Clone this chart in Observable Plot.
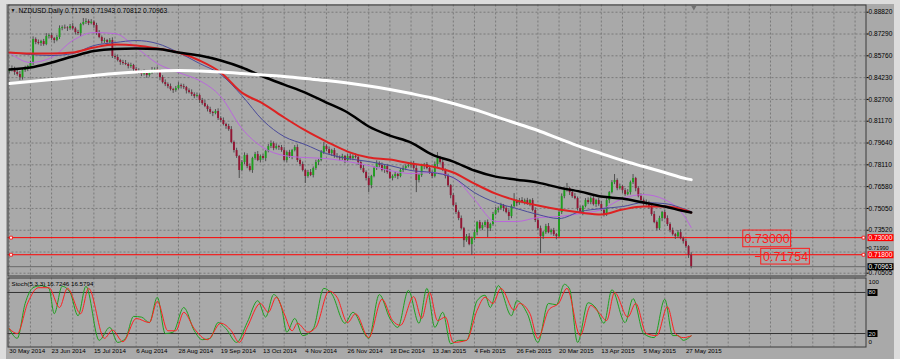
<!DOCTYPE html>
<html><head><meta charset="utf-8">
<script src="https://cdn.jsdelivr.net/npm/d3@7"></script>
<script src="https://cdn.jsdelivr.net/npm/@observablehq/plot@0.6"></script>
<style>
html,body{margin:0;padding:0;background:#dcdcdc;width:900px;height:359px;overflow:hidden;}
#wrap{position:absolute;left:6px;top:4px;width:888px;height:355px;background:#a9a9a9;}
#wrap svg{display:block;}
</style></head><body><div id="wrap"></div>
<script>
// ---- Daily OHLC, NZDUSD, 30 May 2014 .. 29 May 2015 (one entry per bar) ----
const open = [
.8465,.8473,.8487,.8459,.8445,.8423,.8473,.8487,.8501,.8522,
.8690,.8669,.8662,.8676,.8655,.8711,.8718,.8697,.8683,.8704,
.8767,.8774,.8771,.8767,.8781,.8765,.8739,.8732,.8796,.8810,
.8817,.8803,.8812,.8789,.8732,.8704,.8676,.8683,.8669,.8683,
.8571,.8564,.8543,.8529,.8522,.8515,.8501,.8508,.8480,.8466,
.8459,.8445,.8459,.8438,.8452,.8473,.8480,.8471,.8423,.8388,
.8374,.8360,.8339,.8332,.8346,.8367,.8360,.8353,.8330,.8318,
.8304,.8290,.8297,.8262,.8241,.8220,.8199,.8178,.8171,.8185,
.8136,.8122,.8094,.8080,.8058,.7967,.7911,.7869,.7771,.7827,
.7876,.7799,.7771,.7855,.7883,.7841,.7869,.7855,.7904,.7939,
.7960,.7925,.7939,.7932,.7911,.7841,.7897,.7869,.7911,.7932,
.7841,.7813,.7771,.7729,.7757,.7736,.7785,.7827,.7841,.7897,
.7939,.7918,.7890,.7911,.7869,.7862,.7855,.7869,.7841,.7869,
.7855,.7869,.7862,.7827,.7785,.7757,.7715,.7665,.7729,.7785,
.7820,.7806,.7771,.7799,.7757,.7715,.7729,.7743,.7729,.7771,
.7785,.7799,.7806,.7820,.7785,.7701,.7736,.7799,.7813,.7785,
.7757,.7729,.7813,.7855,.7827,.7771,.7729,.7665,.7595,.7525,
.7476,.7434,.7363,.7279,.7307,.7251,.7293,.7335,.7406,.7363,
.7385,.7406,.7363,.7392,.7462,.7490,.7504,.7525,.7504,.7476,
.7448,.7518,.7560,.7539,.7560,.7546,.7560,.7539,.7560,.7490,
.7420,.7363,.7307,.7335,.7378,.7335,.7349,.7321,.7307,.7476,
.7588,.7630,.7644,.7616,.7588,.7574,.7504,.7476,.7518,.7560,
.7546,.7574,.7532,.7560,.7532,.7490,.7462,.7560,.7616,.7686,
.7701,.7644,.7658,.7630,.7602,.7616,.7686,.7715,.7644,.7588,
.7560,.7532,.7546,.7518,.7462,.7406,.7363,.7434,.7476,.7434,
.7392,.7349,.7321,.7307,.7335,.7293,.7272,.7237,.71758];
const high = [
.8485,.8505,.8496,.8474,.8466,.8484,.8503,.8509,.8536,.8709,
.8702,.8687,.8685,.8691,.8732,.8729,.8734,.8705,.8718,.8786,
.8786,.8792,.8780,.8796,.8802,.8776,.8755,.8804,.8838,.8836,
.8829,.8830,.8821,.8804,.8753,.8715,.8699,.8691,.8697,.8702,
.8583,.8582,.8552,.8544,.8543,.8526,.8524,.8516,.8494,.8485,
.8471,.8477,.8468,.8467,.8494,.8491,.8496,.8479,.8437,.8407,
.8386,.8378,.8348,.8361,.8388,.8378,.8376,.8361,.8344,.8337,
.8316,.8315,.8306,.8277,.8262,.8231,.8215,.8186,.8199,.8204,
.8148,.8140,.8103,.8095,.8079,.7978,.7927,.7877,.7841,.7895,
.7888,.7817,.7864,.7898,.7904,.7880,.7885,.7912,.7953,.7979,
.7972,.7957,.7948,.7947,.7932,.7908,.7913,.7919,.7946,.7951,
.7853,.7831,.7780,.7772,.7778,.7796,.7843,.7849,.7911,.7967,
.7951,.7936,.7920,.7926,.7890,.7873,.7885,.7877,.7883,.7888,
.7881,.7887,.7871,.7842,.7806,.7768,.7731,.7737,.7799,.7839,
.7832,.7824,.7808,.7814,.7778,.7740,.7759,.7751,.7785,.7804,
.7811,.7824,.7829,.7835,.7806,.7747,.7815,.7821,.7827,.7804,
.7769,.7831,.7897,.7870,.7848,.7782,.7745,.7673,.7609,.7544,
.7488,.7452,.7372,.7322,.7328,.7304,.7351,.7414,.7420,.7404,
.7418,.7424,.7401,.7477,.7511,.7515,.7541,.7533,.7518,.7495,
.7530,.7609,.7569,.7575,.7581,.7571,.7576,.7568,.7574,.7509,
.7432,.7381,.7344,.7393,.7399,.7360,.7365,.7329,.7490,.7607,
.7642,.7680,.7653,.7631,.7609,.7585,.7520,.7526,.7574,.7579,
.7586,.7592,.7569,.7575,.7553,.7501,.7576,.7624,.7700,.7743,
.7713,.7676,.7667,.7645,.7637,.7697,.7743,.7723,.7658,.7607,
.7572,.7564,.7555,.7533,.7483,.7417,.7450,.7484,.7490,.7453,
.7404,.7367,.7330,.7350,.7356,.7304,.7288,.7245,.71943];
const low = [
.8450,.8463,.8439,.8433,.8403,.8406,.8460,.8465,.8492,.8508,
.8654,.8652,.8642,.8643,.8647,.8694,.8684,.8661,.8674,.8690,
.8752,.8761,.8747,.8755,.8757,.8722,.8719,.8710,.8787,.8796,
.8788,.8793,.8769,.8720,.8696,.8659,.8663,.8647,.8660,.8557,
.8549,.8533,.8509,.8510,.8507,.8484,.8488,.8458,.8457,.8445,
.8430,.8435,.8418,.8426,.8444,.8456,.8458,.8401,.8379,.8360,
.8345,.8329,.8312,.8320,.8338,.8343,.8340,.8308,.8309,.8290,
.8275,.8280,.8242,.8229,.8212,.8182,.8165,.8149,.8162,.8122,
.8107,.8084,.8060,.8046,.7959,.7894,.7856,.7715,.7762,.7813,
.7784,.7761,.7751,.7843,.7833,.7824,.7842,.7833,.7895,.7925,
.7910,.7915,.7912,.7899,.7833,.7824,.7856,.7847,.7902,.7827,
.7798,.7761,.7680,.7717,.7728,.7719,.7772,.7805,.7832,.7883,
.7903,.7880,.7870,.7857,.7854,.7838,.7842,.7819,.7832,.7841,
.7840,.7852,.7807,.7773,.7749,.7698,.7616,.7643,.7720,.7771,
.7791,.7761,.7751,.7745,.7707,.7698,.7716,.7707,.7720,.7757,
.7770,.7789,.7786,.7773,.7616,.7684,.7723,.7777,.7776,.7743,
.7714,.7719,.7793,.7815,.7763,.7712,.7652,.7573,.7516,.7462,
.7419,.7353,.7230,.7267,.7243,.7176,.7280,.7313,.7354,.7349,
.7370,.7300,.7343,.7380,.7454,.7473,.7491,.7482,.7467,.7420,
.7433,.7508,.7519,.7527,.7538,.7529,.7526,.7517,.7481,.7406,
.7348,.7188,.7287,.7323,.7327,.7318,.7308,.7285,.7298,.7462,
.7573,.7620,.7596,.7576,.7566,.7487,.7463,.7454,.7509,.7532,
.7531,.7522,.7512,.7520,.7482,.7445,.7449,.7538,.7607,.7672,
.7629,.7634,.7610,.7590,.7594,.7599,.7673,.7622,.7579,.7546,
.7517,.7522,.7498,.7450,.7398,.7346,.7350,.7412,.7425,.7378,
.7334,.7311,.7287,.7295,.7285,.7255,.7224,.7154,.70812];
const close = [
.8473,.8487,.8459,.8445,.8423,.8473,.8487,.8501,.8522,.8690,
.8669,.8662,.8676,.8655,.8711,.8718,.8697,.8683,.8704,.8767,
.8774,.8771,.8767,.8781,.8765,.8739,.8732,.8796,.8810,.8817,
.8803,.8812,.8789,.8732,.8704,.8676,.8683,.8669,.8683,.8571,
.8564,.8543,.8529,.8522,.8515,.8501,.8508,.8480,.8466,.8459,
.8445,.8459,.8438,.8452,.8473,.8480,.8471,.8423,.8388,.8374,
.8360,.8339,.8332,.8346,.8367,.8360,.8353,.8330,.8318,.8304,
.8290,.8297,.8262,.8241,.8220,.8199,.8178,.8171,.8185,.8136,
.8122,.8094,.8080,.8058,.7967,.7911,.7869,.7771,.7827,.7876,
.7799,.7771,.7855,.7883,.7841,.7869,.7855,.7904,.7939,.7960,
.7925,.7939,.7932,.7911,.7841,.7897,.7869,.7911,.7932,.7841,
.7813,.7771,.7729,.7757,.7736,.7785,.7827,.7841,.7897,.7939,
.7918,.7890,.7911,.7869,.7862,.7855,.7869,.7841,.7869,.7855,
.7869,.7862,.7827,.7785,.7757,.7715,.7665,.7729,.7785,.7820,
.7806,.7771,.7799,.7757,.7715,.7729,.7743,.7729,.7771,.7785,
.7799,.7806,.7820,.7785,.7701,.7736,.7799,.7813,.7785,.7757,
.7729,.7813,.7855,.7827,.7771,.7729,.7665,.7595,.7525,.7476,
.7434,.7363,.7279,.7307,.7251,.7293,.7335,.7406,.7363,.7385,
.7406,.7363,.7392,.7462,.7490,.7504,.7525,.7504,.7476,.7448,
.7518,.7560,.7539,.7560,.7546,.7560,.7539,.7560,.7490,.7420,
.7363,.7307,.7335,.7378,.7335,.7349,.7321,.7307,.7476,.7588,
.7630,.7644,.7616,.7588,.7574,.7504,.7476,.7518,.7560,.7546,
.7574,.7532,.7560,.7532,.7490,.7462,.7560,.7616,.7686,.7701,
.7644,.7658,.7630,.7602,.7616,.7686,.7715,.7644,.7588,.7560,
.7532,.7546,.7518,.7462,.7406,.7363,.7434,.7476,.7434,.7392,
.7349,.7321,.7307,.7335,.7293,.7272,.7237,.71758,.70963];

// ---- moving averages, read every 8 bars ----
const maIdx = [0,8,16,24,32,40,48,56,64,72,80,88,96,104,112,120,128,136,144,152,160,168,176,184,192,200,208,216,224,232,240,248,256,258];
const maWhite  = [.8381,.8395,.8409,.8423,.8438,.8452,.8462,.8469,.8473,.8469,.8462,.8452,.8441,.8431,.8416,.8402,.8385,.8364,.8339,.8311,.8280,.8241,.8199,.8150,.8101,.8052,.7995,.7939,.7890,.7841,.7799,.7757,.7714,.7707];
const maBlack  = [.8480,.8494,.8529,.8571,.8609,.8624,.8627,.8624,.8599,.8578,.8543,.8494,.8431,.8374,.8318,.8248,.8178,.8080,.8016,.7967,.7883,.7834,.7771,.7728,.7707,.7686,.7651,.7623,.7588,.7574,.7546,.7518,.7483,.7476];
const maRed    = [.8599,.8592,.8592,.8599,.8634,.8655,.8648,.8627,.8599,.8543,.8459,.8318,.8241,.8143,.8052,.7974,.7904,.7862,.7848,.7820,.7799,.7757,.7679,.7609,.7560,.7525,.7497,.7476,.7462,.7497,.7518,.7518,.7490,.7476];
const maBlue   = [.8599,.8585,.8578,.8592,.8648,.8669,.8683,.8662,.8599,.8522,.8445,.8297,.8122,.8009,.7953,.7890,.7855,.7834,.7806,.7771,.7757,.7721,.7616,.7546,.7504,.7462,.7434,.7483,.7504,.7518,.7546,.7539,.7497,.7483];
const maPurple = [.8599,.8529,.8564,.8683,.8739,.8732,.8634,.8522,.8459,.8402,.8290,.8066,.7932,.7876,.7862,.7855,.7834,.7806,.7771,.7750,.7757,.7721,.7567,.7413,.7413,.7441,.7448,.7469,.7497,.7574,.7602,.7567,.7434,.7371];

// ---- Stochastic (5,3,3) turning points ----
const kIdx = [0,3,6,9,12,15,17,20,23,26,29,34,38,41,44,47,50,53,56,59,62,66,70,73,76,79,82,86,90,94,97,100,103,105,108,111,115,119,122,127,130,136,140,144,147,151,155,158,161,164,167,170,173,177,180,182,185,190,192,196,200,204,207,210,212,215,219,222,225,228,233,236,240,244,248,251,253,255,258];
const kVal = [27,13,64,87,90,86,49,89,80,46,89,10,29,7,13,45,44,36,73,20,22,58,24,11,13,36,27,7,36,68,44,77,58,22,42,17,27,86,78,35,51,13,77,42,29,83,35,86,29,51,5,10,10,68,76,58,90,46,68,49,7,64,62,92,85,7,65,57,35,84,36,71,20,14,70,17,17,10,16.7246];
const dIdx = [0,3,7,11,15,19,22,27,30,36,39,43,48,53,56,60,63,66,70,75,80,84,87,90,95,98,101,104,107,109,113,116,121,124,128,131,136,141,145,148,153,156,159,162,165,168,173,177,180,183,186,191,193,197,200,204,208,211,216,220,223,226,229,234,237,241,245,249,252,255,258];
const dVal = [27,20,65,87,87,58,86,49,86,13,25,8,42,36,67,24,24,51,27,11,35,24,7,29,64,51,73,49,24,35,22,29,82,73,36,49,14,70,39,32,74,42,80,39,44,7,10,54,73,64,86,54,64,49,13,54,65,86,17,61,51,39,80,44,64,20,17,59,20,14,16.5794];

// ---- axes / labels ----
const priceTicks = [0.8882,0.8729,0.8576,0.8423,0.8270,0.8117,0.7964,0.7811,0.7658,0.7505,0.7352,0.7199,0.70505];
const dateIdx = [0,16,32,48,64,80,96,112,128,144,160,176,192,208,224,240,256];
const dateLabels = ["30 May 2014","23 Jun 2014","15 Jul 2014","6 Aug 2014","28 Aug 2014","19 Sep 2014","13 Oct 2014","4 Nov 2014","26 Nov 2014","18 Dec 2014","13 Jan 2015","4 Feb 2015","26 Feb 2015","20 Mar 2015","13 Apr 2015","5 May 2015","27 May 2015"];
const hLines = [0.73000, 0.71800];
const stochLevels = [80, 20];
// text objects on the chart (bar index / price anchors)
const notes = [
  {text: "0.73000", i1: 277.7, i2: 295.8, p1: 0.73498, p2: 0.72326},
  {text: "0.71754", i1: 284.5, i2: 302.9, p1: 0.72214, p2: 0.71112}
];
const noteDash = [{i1: 282.3, i2: 284.3, p: 0.71674}];

// ---- build rows ----
const last = close.length - 1;
const bars = close.map((c, i) => ({i, open: open[i], high: high[i], low: low[i], close: c}));
const maRows = maIdx.map((i, k) => ({i, white: maWhite[k], black: maBlack[k], red: maRed[k], blue: maBlue[k], purple: maPurple[k]}));
const kRows = kIdx.map((i, k) => ({i, v: kVal[k]}));
const dRows = dIdx.map((i, k) => ({i, v: dVal[k]}));
const bid = close[last];
const f5 = d => d.toFixed(5);
const title = `NZDUSD.Daily ${f5(open[last])} ${f5(high[last])} ${f5(low[last])} ${f5(close[last])}`;
const stochTitle = `Stoch(5,3,3) ${kVal[kVal.length-1].toFixed(4)} ${dVal[dVal.length-1].toFixed(4)}`;
// price label hidden behind the 0.71800 line label in the reference: lift it clear
const tickNear = priceTicks.filter(t => hLines.some(h => Math.abs(t - h) < 0.003));
const tickFree = priceTicks.filter(t => !tickNear.includes(t));

const font = "'Liberation Sans', Arial, sans-serif";
const W = 888;
const xScale = {domain: [0, 324.1], range: [2.8, 859.4]};
const gridIdx = d3.range(0, 321, 8);
const gridStyle = {stroke: "#7a7a7a", strokeOpacity: 1, strokeDasharray: "2,2"};
const boxSym = (w, h) => ({draw(ctx) { ctx.moveTo(0, -h/2); ctx.lineTo(w, -h/2); ctx.lineTo(w, h/2); ctx.lineTo(0, h/2); ctx.closePath(); }});
const style = {background: "transparent", fontFamily: font, color: "#000", overflow: "visible"};

const main = Plot.plot({
  width: W, height: 272,
  marginLeft: 1.5, marginRight: 28.5, marginTop: 0.5, marginBottom: 0.5,
  style,
  x: {...xScale, axis: null},
  y: {domain: [0.70505, 0.8882], range: [268.7, 7.7]},
  marks: [
    Plot.gridY({ticks: priceTicks, ...gridStyle}),
    Plot.gridX({ticks: gridIdx, ...gridStyle}),
    Plot.ruleY([bid], {stroke: "#6a6a6a"}),
    Plot.ruleY(hLines, {stroke: "#ff0000", strokeWidth: 1}),
    Plot.ruleX(bars, {x: "i", y1: "low", y2: "high", stroke: "#505050", strokeWidth: 1}),
    Plot.ruleX(bars.filter(d => d.close >= d.open), {x: "i", y1: "open", y2: "close", stroke: "#1f9f1f", strokeWidth: 1.9}),
    Plot.ruleX(bars.filter(d => d.close < d.open), {x: "i", y1: "open", y2: "close", stroke: "#931634", strokeWidth: 1.9}),
    Plot.line(maRows, {x: "i", y: "purple", stroke: "#bb66dd", strokeWidth: 1, curve: "monotone-x"}),
    Plot.line(maRows, {x: "i", y: "blue", stroke: "#4a4a9a", strokeWidth: 1, curve: "monotone-x"}),
    Plot.line(maRows, {x: "i", y: "red", stroke: "#dd2222", strokeWidth: 2, curve: "monotone-x"}),
    Plot.line(maRows, {x: "i", y: "black", stroke: "#000000", strokeWidth: 2.5, curve: "monotone-x"}),
    Plot.line(maRows, {x: "i", y: "white", stroke: "#ffffff", strokeWidth: 3, curve: "monotone-x"}),
    Plot.rect(notes, {x1: "i1", x2: "i2", y1: "p1", y2: "p2", stroke: "#ff1c1c", fill: "none", strokeWidth: 1}),
    Plot.text(notes, {x: d => (d.i1 + d.i2) / 2, y: d => (d.p1 + d.p2) / 2, text: "text", fill: "#ff1c1c", fontSize: 12.5, fontFamily: font}),
    Plot.ruleY(noteDash, {x1: "i1", x2: "i2", y: "p", stroke: "#ff1c1c"}),
    Plot.axisY({ticks: tickFree, anchor: "right", tickSize: 2, tickPadding: 0.5, tickFormat: f5, fontSize: 6.6, label: null}),
    Plot.axisY({ticks: tickNear, anchor: "right", tickSize: 2, tickPadding: 0.5, tickFormat: f5, fontSize: 5.6, dy: -4.2, label: null}),
    Plot.dot(hLines, {y: d => d, frameAnchor: "right", dx: 1.5, symbol: boxSym(26, 7), fill: "#ff0000"}),
    Plot.text(hLines, {y: d => d, text: f5, frameAnchor: "right", dx: 2.5, textAnchor: "start", fill: "#ffffff", fontSize: 6.6}),
    Plot.dot([bid], {y: d => d, frameAnchor: "right", dx: 1.5, symbol: boxSym(26, 7), fill: "#000000"}),
    Plot.text([bid], {y: d => d, text: f5, frameAnchor: "right", dx: 2.5, textAnchor: "start", fill: "#ffffff", fontSize: 6.6}),
    Plot.dot(hLines, {y: d => d, frameAnchor: "left", dx: 3, symbol: "square", r: 1.6, fill: "#ffffff", stroke: "#ff0000", strokeWidth: 0.8}),
    Plot.dot(hLines, {y: d => d, frameAnchor: "right", dx: -2.5, symbol: "square", r: 1.6, fill: "#ffffff", stroke: "#ff0000", strokeWidth: 0.8}),
    Plot.frame({stroke: "#3a3a3a"}),
    Plot.text(["▼"], {frameAnchor: "top-left", dx: 5, dy: 5.5, lineAnchor: "middle", textAnchor: "middle", fontSize: 5}),
    Plot.text([title], {frameAnchor: "top-left", dx: 10.5, dy: 5.5, lineAnchor: "middle", textAnchor: "start", fontSize: 6.7}),
    Plot.dot([last + 1], {x: d => d, frameAnchor: "top", dy: 2, symbol: "triangle", rotate: 180, r: 2.2, fill: "#707070"})
  ]
});

const stoch = Plot.plot({
  width: W, height: 83,
  marginLeft: 1.5, marginRight: 28.5, marginTop: 1.5, marginBottom: 12.5,
  style,
  x: xScale,
  y: {domain: [0, 100], range: [70.7, 2.3]},
  marks: [
    Plot.gridX({ticks: gridIdx, ...gridStyle}),
    Plot.ruleY(stochLevels, {stroke: "#333333"}),
    Plot.line(kRows, {x: "i", y: "v", stroke: "#1fa01f", strokeWidth: 1, curve: "monotone-x"}),
    Plot.line(dRows, {x: "i", y: "v", stroke: "#ff2020", strokeWidth: 1, curve: "monotone-x"}),
    Plot.axisX({ticks: dateIdx, tickFormat: d => dateLabels[dateIdx.indexOf(d)], anchor: "bottom", tickSize: 0, tickPadding: 2, textAnchor: "start", fontSize: 6.2, label: null}),
    Plot.axisY({ticks: [100], anchor: "right", tickSize: 0, tickPadding: 2.5, dy: 3.4, fontSize: 6.2, label: null}),
    Plot.axisY({ticks: [0], anchor: "right", tickSize: 0, tickPadding: 2.5, dy: -4.7, fontSize: 6.2, label: null}),
    Plot.dot(stochLevels, {y: d => d, frameAnchor: "right", dx: 1.5, symbol: boxSym(10, 7), fill: "#000000"}),
    Plot.text(stochLevels, {y: d => d, text: d => String(d), frameAnchor: "right", dx: 2.5, textAnchor: "start", fill: "#d8d8d8", fontSize: 6.2}),
    Plot.frame({stroke: "#3a3a3a"}),
    Plot.text([stochTitle], {frameAnchor: "top-left", dx: 3.5, dy: 5.8, lineAnchor: "middle", textAnchor: "start", fontSize: 6.2})
  ]
});

document.getElementById("wrap").append(main, stoch);
</script></body></html>
